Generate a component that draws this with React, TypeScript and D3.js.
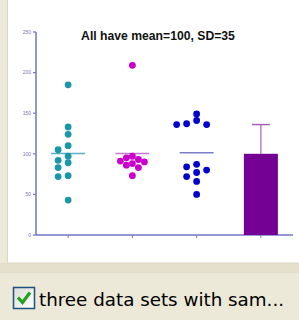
import React from "react"
import * as d3 from "d3"

const groups = ["teal", "magenta", "blue", "bar"]
const tealValues = [185, 133, 124, 110, 105, 97, 92, 89, 83, 73, 72, 43]
const magentaValues = [209, 97, 95, 93, 91, 90, 88, 86, 83, 73]
const blueValues = [149, 141, 137, 136, 136, 87, 84, 80, 77, 72, 66, 50]
const barMean = 100
const barSD = 36
const yTicks = [0, 50, 100, 150, 200, 250]
const title = "All have mean=100, SD=35"
const caption = "three data sets with sam..."

// simple deterministic column jitter so dots don't pile up
function jitter(values: number[], y: (v: number) => number, step: number, minDist: number) {
    const placed: { dx: number; py: number }[] = []
    const order = values.map((v, i) => i).sort((a, b) => values[b] - values[a])
    const out: number[] = new Array(values.length).fill(0)
    order.forEach((i) => {
        const py = y(values[i])
        const cands = [0, -step, step, -2 * step, 2 * step, -3 * step, 3 * step]
        const dx = cands.find((c) => placed.every((p) => Math.hypot(p.dx - c, p.py - py) >= minDist)) ?? 0
        placed.push({ dx, py })
        out[i] = dx
    })
    return out
}

function Chart() {
    const width = 299
    const height = 320
    const x = d3.scalePoint().domain(groups).range([36, 293]).padding(0.5)
    const y = d3.scaleLinear().domain([0, 250]).range([235, 32])

    const series = [
        { key: "teal", values: tealValues, color: "#1a98a8", line: "#5cb0bf", step: 10 },
        { key: "magenta", values: magentaValues, color: "#cc00cc", line: "#c878cc", step: 6 },
        { key: "blue", values: blueValues, color: "#0000cc", line: "#7c7cc8", step: 10 },
    ]
    const axisColor = "#7474c4"
    const bx = x("bar")!

    return (
        <svg width={width} height={height} style={{ position: "absolute", left: 0, top: 0 }}>
            <rect x={0} y={0} width={width} height={height} fill="#ECE9D8" />
            <rect x={0} y={263} width={width} height={10} fill="#E4E0CC" />
            <rect x={7.5} y={-1} width={width} height={264} fill="#fff" stroke="#DDD7C2" />

            <text x={158} y={40} textAnchor="middle" fontFamily="Liberation Sans, Arial" fontWeight="bold" fontSize={12.2} fill="#111">
                {title}
            </text>

            {/* y axis */}
            <line x1={36} x2={36} y1={y(250)} y2={y(0)} stroke={axisColor} strokeWidth={1.5} />
            {yTicks.map((t) => (
                <g key={t}>
                    <line x1={33} x2={36} y1={y(t)} y2={y(t)} stroke={axisColor} strokeWidth={1.2} />
                    <text x={31} y={y(t) + 1.7} textAnchor="end" fontFamily="Liberation Sans, Arial" fontSize={5} fill="#8070b8">
                        {t}
                    </text>
                </g>
            ))}

            {/* x axis */}
            <line x1={36} x2={293} y1={y(0)} y2={y(0)} stroke={axisColor} strokeWidth={1.5} />
            {groups.map((g) => (
                <line key={g} x1={x(g)} x2={x(g)} y1={y(0)} y2={y(0) + 3} stroke={axisColor} strokeWidth={1} />
            ))}

            {series.map((s) => {
                const cx = x(s.key)!
                const offs = jitter(s.values, y, s.step, 6)
                const mean = d3.mean(s.values)!
                return (
                    <g key={s.key}>
                        <line x1={cx - 17} x2={cx + 17} y1={y(mean)} y2={y(mean)} stroke={s.line} strokeWidth={1.5} />
                        {s.values.map((v, i) => (
                            <circle key={i} cx={cx + offs[i]} cy={y(v)} r={3.4} fill={s.color} />
                        ))}
                    </g>
                )
            })}

            {/* bar with SD */}
            <line x1={bx} x2={bx} y1={y(barMean)} y2={y(barMean + barSD)} stroke="#a860b8" strokeWidth={1.2} />
            <line x1={bx - 9} x2={bx + 9} y1={y(barMean + barSD)} y2={y(barMean + barSD)} stroke="#a860b8" strokeWidth={1.5} />
            <rect x={bx - 17} y={y(barMean)} width={34} height={y(0) - y(barMean)} fill="#750094" />

            {/* checkbox */}
            <defs>
                <linearGradient id="cb" x1="0" y1="0" x2="1" y2="1">
                    <stop offset="0" stopColor="#dcdcd4" />
                    <stop offset="1" stopColor="#ffffff" />
                </linearGradient>
            </defs>
            <rect x={13.5} y={287.5} width={21} height={21} fill="url(#cb)" stroke="#1c5180" strokeWidth={1.5} />
            <path d="M18,297.5 L22.5,302.5 L30,292.5" fill="none" stroke="#21a121" strokeWidth={3.2} />
            <text x={39} y={306} fontFamily="DejaVu Sans, Tahoma, sans-serif" fontSize={18.3} fill="#000">
                {caption}
            </text>
        </svg>
    )
}

export default function App() {
    return <Chart />
}
